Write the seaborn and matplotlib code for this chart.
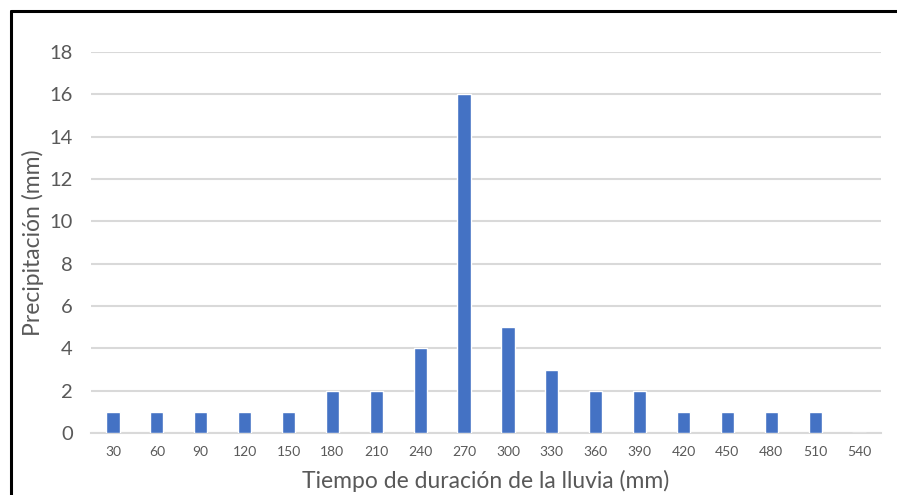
import matplotlib
matplotlib.use("Agg")
import matplotlib.pyplot as plt
import seaborn as sns
import pandas as pd
from matplotlib.lines import Line2D

# Rainfall duration (minutes) and precipitation per interval
duracion = ["30", "60", "90", "120", "150", "180", "210", "240", "270",
            "300", "330", "360", "390", "420", "450", "480", "510", "540"]
precipitacion = [1, 1, 1, 1, 1, 2, 2, 4, 16, 5, 3, 2, 2, 1, 1, 1, 1, 0]
y_ticks = [0, 2, 4, 6, 8, 10, 12, 14, 16, 18]

df = pd.DataFrame({"duracion": duracion, "precipitacion": precipitacion})

sns.set_theme(style="white")
plt.rcParams["font.family"] = ["Lato", "DejaVu Sans"]

W, H = 897, 495
fig = plt.figure(figsize=(W / 100, H / 100), dpi=100)
ax = fig.add_axes([91 / W, 1 - 433 / H, (881 - 91) / W, (433 - 52) / H])

sns.barplot(data=df, x="duracion", y="precipitacion", color="#4472C4",
            width=0.3, saturation=1, ax=ax, zorder=3)

ax.set_ylim(0, 18)
ax.set_xlim(-0.5, len(duracion) - 0.5)
ax.set_yticks(y_ticks)
ax.yaxis.grid(True, color="#d9d9d9", linewidth=1.5, zorder=0)
ax.xaxis.grid(False)
for s in ["top", "right", "left"]:
    ax.spines[s].set_visible(False)
ax.spines["bottom"].set_color("#d9d9d9")
ax.spines["bottom"].set_linewidth(1.5)
ax.tick_params(axis="both", length=0)
ax.tick_params(axis="y", labelsize=14.5, labelcolor="#595959", pad=13)
ax.tick_params(axis="x", labelsize=10, labelcolor="#595959", pad=9)

ax.set_xlabel("Tiempo de duración de la lluvia (mm)", fontsize=16.5,
              color="#595959", labelpad=9)
ax.set_ylabel("Precipitación (mm)", fontsize=16.5, color="#595959",
              labelpad=4)

# Frame around the chart (left and top edges)
fig.add_artist(Line2D([11 / W, 11 / W], [0, 1 - 11 / H], transform=fig.transFigure,
                      color="black", linewidth=2.2))
fig.add_artist(Line2D([11 / W, 1], [1 - 11 / H, 1 - 11 / H], transform=fig.transFigure,
                      color="black", linewidth=2.2))

fig.savefig("out.png", dpi=100, facecolor="white")
